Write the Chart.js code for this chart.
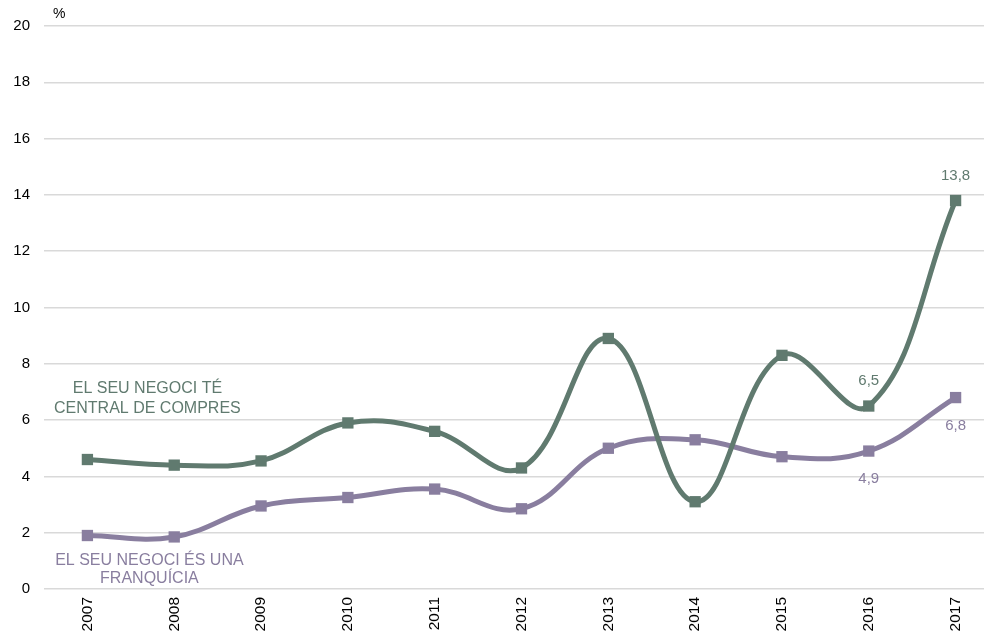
<!DOCTYPE html>
<html>
<head>
<meta charset="utf-8">
<script src="https://cdn.jsdelivr.net/npm/chart.js@4"></script>
<style>
  html, body { margin: 0; padding: 0; overflow: hidden; background: #fff; }
  #wrap { position: relative; width: 1007px; height: 634px; }
</style>
</head>
<body>
<div id="wrap"><canvas id="c"></canvas></div>
<script>
const years = ['2007','2008','2009','2010','2011','2012','2013','2014','2015','2016','2017'];
const centralCompres = [4.6, 4.4, 4.55, 5.9, 5.6, 4.3, 8.9, 3.1, 8.3, 6.5, 13.8];
const franquicia = [1.9, 1.85, 2.95, 3.25, 3.55, 2.85, 5.0, 5.3, 4.7, 4.9, 6.8];
const yTicks = [0, 2, 4, 6, 8, 10, 12, 14, 16, 18, 20];
const centralName = ['EL SEU NEGOCI TÉ', 'CENTRAL DE COMPRES'];
const franquiciaName = ['EL SEU NEGOCI ÉS UNA', 'FRANQUÍCIA'];
// indices of labelled points: [index, position]
const centralLabels = [[9, 'above'], [10, 'above']];
const franquiciaLabels = [[9, 'below'], [10, 'below']];

const GREEN = '#607a6f';
const PURPLE = '#897e9f';
const FONT = '"Liberation Sans", Arial, sans-serif';

const fmt = v => String(v).replace('.', ',');

const labelPlugin = {
  id: 'labels',
  afterDatasetsDraw(chart) {
    const ctx = chart.ctx;
    const xs = chart.scales.x, ys = chart.scales.y;
    ctx.save();
    ctx.textAlign = 'center';
    ctx.textBaseline = 'middle';
    ctx.font = '15px ' + FONT;
    const drawVals = (dsIndex, list, color) => {
      const meta = chart.getDatasetMeta(dsIndex);
      ctx.fillStyle = color;
      list.forEach(([i, pos]) => {
        const p = meta.data[i];
        const v = chart.data.datasets[dsIndex].data[i];
        ctx.fillText(fmt(v), p.x, pos === 'above' ? p.y - 25 : p.y + 28);
      });
    };
    drawVals(0, centralLabels, GREEN);
    drawVals(1, franquiciaLabels, PURPLE);
    // series names
    ctx.font = '16px ' + FONT;
    const x0 = xs.getPixelForValue(0);
    ctx.fillStyle = GREEN;
    ctx.fillText(centralName[0], x0 + 60, ys.getPixelForValue(7.13));
    ctx.fillText(centralName[1], x0 + 60, ys.getPixelForValue(6.42));
    ctx.fillStyle = PURPLE;
    ctx.fillText(franquiciaName[0], x0 + 62, ys.getPixelForValue(1.0));
    ctx.fillText(franquiciaName[1], x0 + 62, ys.getPixelForValue(0.38));
    // unit
    ctx.fillStyle = '#000';
    ctx.font = '14px ' + FONT;
    ctx.textAlign = 'left';
    ctx.fillText('%', xs.left + 9, ys.top - 12);
    ctx.restore();
  }
};

new Chart(document.getElementById('c'), {
  type: 'line',
  data: {
    labels: years,
    datasets: [
      {
        label: centralName.join(' '),
        data: centralCompres,
        borderColor: GREEN,
        backgroundColor: GREEN,
        borderWidth: 5,
        tension: 0.4,
        pointStyle: 'rect',
        pointRadius: 8,
        pointBorderWidth: 0,
        pointHoverRadius: 8
      },
      {
        label: franquiciaName.join(' '),
        data: franquicia,
        borderColor: PURPLE,
        backgroundColor: PURPLE,
        borderWidth: 5,
        tension: 0.4,
        pointStyle: 'rect',
        pointRadius: 8,
        pointBorderWidth: 0,
        pointHoverRadius: 8
      }
    ]
  },
  options: {
    responsive: true,
    maintainAspectRatio: false,
    animation: false,
    events: [],
    layout: { padding: { top: 26, left: 0, right: 0, bottom: 0 } },
    plugins: { legend: { display: false }, tooltip: { enabled: false } },
    scales: {
      x: {
        offset: true,
        grid: { display: false, drawTicks: false },
        border: { display: false },
        ticks: {
          color: '#000',
          font: { size: 15.5, family: FONT },
          minRotation: 90,
          maxRotation: 90,
          padding: 8,
          autoSkip: false
        },
        afterFit(s) { s.height = 45; }
      },
      y: {
        min: 0,
        max: 20,
        afterBuildTicks(s) { s.ticks = yTicks.map(v => ({ value: v })); },
        grid: { color: '#d9d9d9', lineWidth: 1.5, drawTicks: false },
        border: { display: false },
        ticks: {
          color: '#000',
          font: { size: 15, family: FONT },
          padding: 14
        },
        afterFit(s) { s.width = 44; }
      }
    }
  },
  plugins: [labelPlugin]
});
</script>
</body>
</html>
